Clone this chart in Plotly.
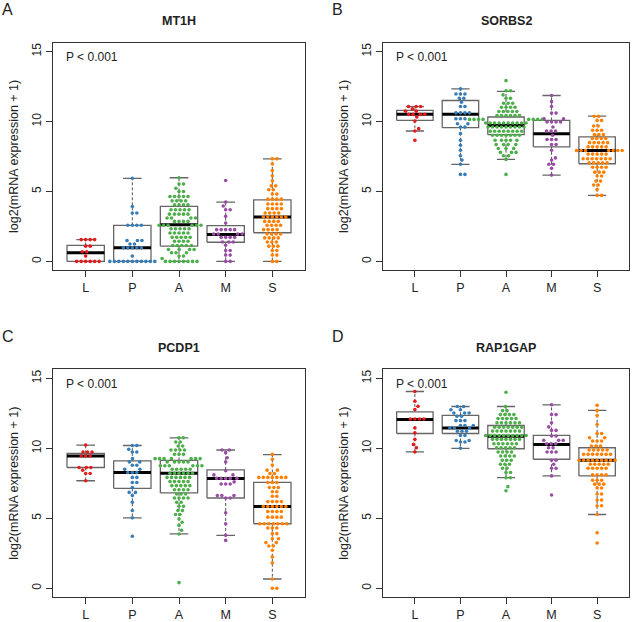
import math
import plotly.graph_objects as go

W, H = 635, 622
CATS = ["L", "P", "A", "M", "S"]
COLORS = ["#E41A1C", "#377EB8", "#4DAF4A", "#984EA3", "#FF7F00"]
Y_TICKS = [0, 5, 10, 15]
P_TEXT = "P < 0.001"
Y_TITLE = "log2(mRNA expression + 1)"

# ---------------- MT1H ----------------
MT1H_L = [0, 0, 0, 0, 0, 0, 0.38, 0.69, 0.69, 1.09, 1.09, 1.56, 1.56, 1.56, 1.56]
MT1H_P = [0, 0, 0, 0, 0, 0, 0, 0, 0, 0, 0, 0.38, 0.97, 0.97, 0.97, 0.97, 0.97, 1.25, 1.25,
          1.49, 1.49, 1.49, 2.58, 2.58, 2.58, 2.58, 3.46, 3.46, 3.93, 5.94]
MT1H_A = [0, 0, 0, 0, 0, 0, 0, 0, 0.21, 0.38, 0.38, 0.62, 0.62, 0.62, 0.85, 0.85, 0.85, 0.85,
          1.14, 1.14, 1.14, 1.14, 1.14, 1.44, 1.44, 1.44, 1.44, 1.72, 1.72, 1.72, 1.72, 1.72,
          2.03, 2.03, 2.03, 2.03, 2.03, 2.34, 2.34, 2.34, 2.34, 2.34, 2.58, 2.58, 2.58, 2.58,
          2.58, 2.58, 2.86, 2.86, 2.86, 2.86, 3.1, 3.1, 3.1, 3.1, 3.38, 3.38, 3.38, 3.38, 3.38,
          3.69, 3.69, 3.69, 3.69, 3.69, 4.05, 4.05, 4.05, 4.05, 4.33, 4.33, 4.33, 4.33,
          4.64, 4.64, 4.64, 4.64, 4.64, 5.0, 5.0, 5.23, 5.53, 5.53, 5.98]
MT1H_M = [0, 0, 0.45, 0.45, 0.78, 0.78, 1.16, 1.39, 1.39, 1.39, 1.72, 1.72, 1.72, 1.72,
          1.96, 1.96, 1.96, 1.96, 2.27, 2.27, 2.27, 2.27, 2.27, 2.75, 3.22, 3.69, 3.69, 3.96,
          4.24, 5.78]
MT1H_S = [0, 0, 0.45, 0.45, 0.78, 0.78, 1.09, 1.09, 1.09, 1.39, 1.39, 1.39, 1.68, 1.68, 1.68,
          1.68, 1.96, 1.96, 1.96, 1.96, 2.27, 2.27, 2.27, 2.27, 2.58, 2.58, 2.58, 2.58,
          2.86, 2.86, 2.86, 2.86, 3.17, 3.17, 3.17, 3.17, 3.17, 3.17, 3.46, 3.46, 3.46, 3.46,
          3.77, 3.77, 3.77, 3.77, 4.1, 4.1, 4.1, 4.1, 4.45, 4.45, 4.45, 4.45, 4.81, 4.81,
          5.12, 5.12, 5.4, 5.4, 5.76, 6.12, 6.5, 6.97, 7.33, 7.33]
MT1H_Q1 = [0, 0, 1.09, 1.37, 2.05]
MT1H_MED = [0.62, 0.97, 2.62, 1.92, 3.17]
MT1H_Q3 = [1.14, 2.58, 3.93, 2.56, 4.4]
MT1H_LO = [0, 0, 0, 0, 0]
MT1H_HI = [1.56, 5.94, 5.98, 4.24, 7.33]

# ---------------- SORBS2 ----------------
SORBS2_L = [8.66, 9.32, 9.49, 10.03, 10.32, 10.51, 10.51, 10.51, 10.51, 10.74, 10.74, 10.9,
            11.07, 11.07, 11.07]
SORBS2_P = [6.22, 6.22, 6.94, 7.24, 7.55, 7.95, 8.3, 8.66, 9.13, 9.6, 9.6, 9.84, 9.84, 10.2,
            10.2, 10.2, 10.62, 10.62, 10.62, 10.62, 11.07, 11.07, 11.38, 11.66, 11.66,
            11.97, 11.97, 11.97, 12.33]
SORBS2_A = [6.22, 7.29, 7.55, 7.55, 7.79, 7.79, 7.79, 8.07, 8.07, 8.07, 8.35, 8.35, 8.35, 8.35,
            8.66, 8.66, 8.66, 8.66, 8.66, 9.02, 9.02, 9.02, 9.02, 9.02, 9.02, 9.02,
            9.3, 9.3, 9.3, 9.3, 9.3, 9.3, 9.3, 9.3, 9.61, 9.61, 9.61, 9.61, 9.61, 9.61, 9.61,
            9.61, 9.61, 9.89, 9.89, 9.89, 9.89, 9.89, 9.89, 9.89, 9.89, 9.89, 9.89,
            10.15, 10.15, 10.15, 10.15, 10.15, 10.15, 10.15, 10.15, 10.43, 10.43, 10.43,
            10.43, 10.43, 10.43, 10.72, 10.72, 10.72, 10.72, 10.72, 11.02, 11.02, 11.02,
            11.02, 11.3, 11.3, 11.3, 11.66, 11.66, 11.9, 12.2, 12.2, 12.92]
SORBS2_M = [6.17, 6.65, 6.94, 6.94, 7.24, 7.4, 7.95, 8.35, 8.35, 8.71, 8.71, 8.71, 9.02,
            9.32, 9.32, 9.32, 9.61, 9.96, 9.96, 9.96, 9.96, 10.2, 10.2, 10.6, 10.6, 11.07,
            11.42, 11.86]
SORBS2_S = [4.72, 4.72, 5.15, 5.46, 5.46, 5.74, 5.74, 6.1, 6.1, 6.38, 6.38, 6.38, 6.73, 6.73,
            6.73, 6.73, 7.04, 7.04, 7.04, 7.04, 7.04, 7.34, 7.34, 7.34, 7.34, 7.34, 7.34, 7.34,
            7.67, 7.67, 7.67, 7.67, 7.67, 7.93, 7.93, 7.93, 7.93, 7.93, 7.93, 7.93,
            8.19, 8.19, 8.19, 8.19, 8.19, 8.49, 8.49, 8.49, 8.49, 8.49, 8.78, 8.78, 8.78, 8.78,
            9.06, 9.06, 9.06, 9.37, 9.37, 9.37, 9.68, 9.68, 10.08, 10.08, 10.38, 10.38]
SORBS2_Q1 = [10.08, 9.56, 9.06, 8.19, 6.98]
SORBS2_MED = [10.51, 10.51, 9.72, 9.13, 7.93]
SORBS2_Q3 = [10.79, 11.5, 10.32, 10.08, 8.9]
SORBS2_LO = [9.32, 6.94, 7.29, 6.17, 4.72]
SORBS2_HI = [11.07, 12.33, 12.16, 11.86, 10.38]

# ---------------- PCDP1 ----------------
PCDP1_L = [7.68, 8.2, 8.2, 8.44, 8.63, 8.63, 8.63, 9.45, 9.45, 9.45, 9.74, 9.74, 9.74, 10.23]
PCDP1_P = [3.71, 5.03, 5.55, 6.14, 6.62, 6.85, 6.85, 7.2, 7.56, 7.56, 7.92, 7.92, 8.27, 8.27,
           8.27, 8.5, 8.5, 8.79, 8.79, 9.03, 9.03, 9.26, 9.74, 9.74, 9.93, 10.2, 10.2]
PCDP1_A = [0.4, 3.88, 4.14, 4.49, 4.72, 4.96, 5.27, 5.27, 5.55, 5.55, 5.86, 5.86, 6.14, 6.14,
           6.45, 6.45, 6.45, 6.45, 6.73, 6.73, 6.73, 7.04, 7.04, 7.04, 7.04, 7.33, 7.33, 7.33,
           7.33, 7.33, 7.62, 7.62, 7.62, 7.62, 7.62, 7.92, 7.92, 7.92, 7.92, 7.92, 7.92,
           8.22, 8.22, 8.22, 8.22, 8.22, 8.22, 8.5, 8.5, 8.5, 8.5, 8.5, 8.75, 8.75, 8.75, 8.75,
           8.75, 8.75, 9.03, 9.03, 9.03, 9.03, 9.03, 9.26, 9.26, 9.26, 9.26, 9.26, 9.26, 9.26,
           9.57, 9.57, 9.57, 9.88, 9.88, 9.88, 9.88, 10.17, 10.17, 10.45, 10.45, 10.75, 10.75]
PCDP1_M = [3.42, 3.78, 4.61, 5.39, 6.45, 6.45, 6.62, 6.62, 6.62, 7.45, 7.45, 7.45, 7.6, 7.85,
           7.85, 7.85, 7.85, 7.85, 8.1, 8.1, 8.4, 9.03, 9.33, 9.69, 9.88, 9.88]
PCDP1_S = [0, 0, 0.66, 1.81, 2.24, 2.71, 3.02, 3.02, 3.26, 3.26, 3.54, 3.54, 3.9, 3.9, 4.3, 4.3,
           4.3, 4.61, 4.61, 4.61, 4.61, 4.61, 4.61, 4.61, 5.08, 5.08, 5.08, 5.08, 5.48, 5.48,
           5.48, 5.48, 5.84, 5.84, 5.84, 5.84, 5.84, 5.84, 6.19, 6.19, 6.19, 6.19, 6.57, 6.57,
           6.9, 6.9, 7.2, 7.2, 7.2, 7.56, 7.56, 7.56, 7.92, 7.92, 7.92, 7.92, 7.92, 7.92, 7.92,
           8.2, 8.2, 8.44, 8.44, 8.8, 9.22, 9.57]
PCDP1_Q1 = [8.63, 7.14, 6.81, 6.45, 4.61]
PCDP1_MED = [9.45, 8.27, 8.22, 7.85, 5.84]
PCDP1_Q3 = [9.64, 9.1, 9.14, 8.46, 7.56]
PCDP1_LO = [7.68, 5.03, 3.88, 3.78, 0.66]
PCDP1_HI = [10.23, 10.2, 10.75, 9.88, 9.55]

# ---------------- RAP1GAP ----------------
RAP1GAP_L = [9.74, 10.04, 10.28, 10.64, 11.1, 11.46, 12.1, 12.1, 12.1, 12.1, 12.77, 13.0,
             13.36, 14.06]
RAP1GAP_P = [10.0, 10.45, 10.45, 10.56, 10.56, 10.92, 10.92, 11.22, 11.22, 11.22, 11.45, 11.45,
             11.45, 11.63, 11.63, 11.63, 11.98, 11.98, 11.98, 12.29, 12.29, 12.52, 12.52,
             12.52, 12.76, 12.76, 12.99, 12.99]
RAP1GAP_A = [6.97, 7.26, 7.9, 7.9, 8.27, 8.27, 8.58, 8.58, 8.86, 8.86, 8.86, 9.15, 9.15, 9.15,
             9.45, 9.45, 9.45, 9.45, 9.74, 9.74, 9.74, 9.74, 10.04, 10.04, 10.04, 10.04, 10.04,
             10.33, 10.33, 10.33, 10.33, 10.33, 10.33, 10.64, 10.64, 10.64, 10.64, 10.64,
             10.64, 10.64, 10.92, 10.92, 10.92, 10.92, 10.92, 10.92, 10.92, 10.92, 10.92,
             10.92, 11.23, 11.23, 11.23, 11.23, 11.23, 11.23, 11.23, 11.51, 11.51, 11.51,
             11.51, 11.51, 11.51, 11.51, 11.82, 11.82, 11.82, 11.82, 11.82, 11.82, 12.13,
             12.13, 12.13, 12.13, 12.13, 12.41, 12.41, 12.41, 12.41, 12.69, 12.69, 12.99, 14.01]
RAP1GAP_M = [6.66, 8.03, 8.58, 8.58, 8.86, 9.15, 9.15, 9.74, 9.74, 9.74, 10.04, 10.04, 10.33,
             10.33, 10.33, 10.57, 10.57, 10.57, 10.88, 10.88, 11.28, 11.28, 11.53, 11.82,
             12.41, 12.41, 13.11]
RAP1GAP_S = [3.23, 3.97, 5.27, 5.9, 5.9, 6.3, 6.3, 6.73, 6.73, 7.16, 7.16, 7.44, 7.44, 7.44,
             7.72, 7.72, 7.72, 8.1, 8.1, 8.1, 8.1, 8.58, 8.58, 8.58, 8.58, 8.58, 8.86, 8.86,
             8.86, 8.86, 8.86, 9.15, 9.15, 9.15, 9.15, 9.15, 9.15, 9.15, 9.15, 9.15, 9.57, 9.57,
             9.57, 9.57, 9.57, 9.57, 9.57, 9.88, 9.88, 9.88, 9.88, 9.88, 10.16, 10.16, 10.16,
             10.52, 10.52, 10.52, 10.75, 10.75, 11.06, 11.06, 11.7, 12.34, 12.71, 13.07]
RAP1GAP_Q1 = [11.06, 11.06, 9.97, 9.22, 8.03]
RAP1GAP_MED = [12.06, 11.46, 10.87, 10.28, 9.15]
RAP1GAP_Q3 = [12.6, 12.36, 11.63, 10.92, 10.04]
RAP1GAP_LO = [9.74, 10.0, 7.9, 8.03, 5.27]
RAP1GAP_HI = [14.06, 12.99, 12.99, 13.11, 12.71]

PANELS = [
    ("A", "MT1H", [MT1H_L, MT1H_P, MT1H_A, MT1H_M, MT1H_S],
     (MT1H_Q1, MT1H_MED, MT1H_Q3, MT1H_LO, MT1H_HI), (53, 305, 43, 273)),
    ("B", "SORBS2", [SORBS2_L, SORBS2_P, SORBS2_A, SORBS2_M, SORBS2_S],
     (SORBS2_Q1, SORBS2_MED, SORBS2_Q3, SORBS2_LO, SORBS2_HI), (383, 629, 43, 273)),
    ("C", "PCDP1", [PCDP1_L, PCDP1_P, PCDP1_A, PCDP1_M, PCDP1_S],
     (PCDP1_Q1, PCDP1_MED, PCDP1_Q3, PCDP1_LO, PCDP1_HI), (53, 305, 373, 603)),
    ("D", "RAP1GAP", [RAP1GAP_L, RAP1GAP_P, RAP1GAP_A, RAP1GAP_M, RAP1GAP_S],
     (RAP1GAP_Q1, RAP1GAP_MED, RAP1GAP_Q3, RAP1GAP_LO, RAP1GAP_HI), (383, 629, 373, 603)),
]

X_RANGE = [0.3, 5.7]
Y_RANGE = [-0.64, 15.64]
BOX_HALF = 0.4
CAP_HALF = 0.2
DOT = 3.6      # marker diameter, px
GAP = 4.5      # minimum centre distance between points in the swarm, px
FONT = "Liberation Sans, Arial, sans-serif"


def swarm(vals, xppu, yppu, d):
    """beeswarm 'swarm' layout (ascending priority); returns x offsets in data units"""
    order = sorted(range(len(vals)), key=lambda i: vals[i])
    placed = []
    xs = [0.0] * len(vals)
    for i in order:
        y = vals[i] * yppu
        cands = [0.0]
        for px, py in placed:
            dy = y - py
            if abs(dy) < d:
                dx = math.sqrt(d * d - dy * dy)
                cands += [px + dx, px - dx]
        cands.sort(key=abs)
        chosen = 0.0
        for c in cands:
            if all((c - px) ** 2 + (y - py) ** 2 >= d * d - 1e-6 for px, py in placed):
                chosen = c
                break
        placed.append((chosen, y))
        xs[i] = chosen / xppu
    return xs


fig = go.Figure()
layout = dict(
    width=W, height=H, margin=dict(l=0, r=0, t=0, b=0),
    paper_bgcolor="white", plot_bgcolor="white", showlegend=False,
    font=dict(family=FONT, color="#222222", size=12),
)
annotations = []

for k, (letter, gene, groups, stats, (x0, x1, y0, y1)) in enumerate(PANELS):
    sfx = "" if k == 0 else str(k + 1)
    xa, ya = "x" + sfx, "y" + sfx
    xppu = (x1 - x0) / (X_RANGE[1] - X_RANGE[0])
    yppu = (y1 - y0) / (Y_RANGE[1] - Y_RANGE[0])
    q1, med, q3, lo, hi = stats

    bx, by, mx, my, wx, wy, cx, cy = [], [], [], [], [], [], [], []
    for g in range(5):
        c = g + 1
        bx += [c - BOX_HALF, c + BOX_HALF, c + BOX_HALF, c - BOX_HALF, c - BOX_HALF, None]
        by += [q1[g], q1[g], q3[g], q3[g], q1[g], None]
        mx += [c - BOX_HALF, c + BOX_HALF, None]
        my += [med[g], med[g], None]
        wx += [c, c, None, c, c, None]
        wy += [q3[g], hi[g], None, q1[g], lo[g], None]
        cx += [c - CAP_HALF, c + CAP_HALF, None, c - CAP_HALF, c + CAP_HALF, None]
        cy += [hi[g], hi[g], None, lo[g], lo[g], None]

    fig.add_trace(go.Scatter(x=wx, y=wy, mode="lines", xaxis=xa, yaxis=ya, hoverinfo="skip",
                             line=dict(color="#555555", width=1, dash="3px,2px")))
    fig.add_trace(go.Scatter(x=cx, y=cy, mode="lines", xaxis=xa, yaxis=ya, hoverinfo="skip",
                             line=dict(color="#666666", width=1.3)))
    fig.add_trace(go.Scatter(x=bx, y=by, mode="lines", xaxis=xa, yaxis=ya, hoverinfo="skip",
                             line=dict(color="#666666", width=1.3)))
    fig.add_trace(go.Scatter(x=mx, y=my, mode="lines", xaxis=xa, yaxis=ya, hoverinfo="skip",
                             line=dict(color="#000000", width=3)))

    for g, vals in enumerate(groups):
        offs = swarm(vals, xppu, yppu, GAP)
        fig.add_trace(go.Scatter(
            x=[g + 1 + o for o in offs], y=vals, mode="markers", xaxis=xa, yaxis=ya,
            marker=dict(color=COLORS[g], size=DOT, line=dict(width=0)), name=CATS[g]))

    layout["xaxis" + sfx] = dict(
        domain=[x0 / W, x1 / W], range=X_RANGE, anchor=ya, showline=True, mirror=True,
        linecolor="#333333", linewidth=1, ticks="outside", ticklen=6, tickcolor="#333333",
        tickvals=[1, 2, 3, 4, 5], ticktext=CATS, showgrid=False, zeroline=False,
        tickfont=dict(size=12.5, color="#222222", family=FONT), fixedrange=True)
    layout["yaxis" + sfx] = dict(
        domain=[1 - y1 / H, 1 - y0 / H], range=Y_RANGE, anchor=xa, showline=True, mirror=True,
        linecolor="#333333", linewidth=1, ticks="outside", ticklen=6, tickcolor="#333333",
        tickvals=Y_TICKS, tickangle=-90, showgrid=False, zeroline=False,
        tickfont=dict(size=12, color="#222222", family=FONT), fixedrange=True)

    # p-value text
    annotations.append(dict(x=0.535, y=14.6, xref=xa, yref=ya, text=P_TEXT, showarrow=False,
                            xanchor="left", yanchor="middle",
                            font=dict(size=12, color="#222222", family=FONT)))
    # gene title
    annotations.append(dict(x=(x0 + x1) / 2 / W, y=1 - (y0 - 21.5) / H, xref="paper",
                            yref="paper", text="<b>" + gene + "</b>", showarrow=False,
                            xanchor="center", yanchor="middle",
                            font=dict(size=12.5, color="#222222", family=FONT)))
    # panel letter
    annotations.append(dict(x=(x0 - 53 + 1) / W, y=1 - (y0 - 43) / H, xref="paper",
                            yref="paper", text=letter, showarrow=False, xanchor="left",
                            yanchor="top", borderpad=0,
                            font=dict(size=16, color="#222222", family=FONT)))
    # y title
    annotations.append(dict(x=(x0 - 38.5) / W, y=1 - (y0 + y1) / 2 / H, xref="paper",
                            yref="paper", text=Y_TITLE, showarrow=False, textangle=-90,
                            xanchor="center", yanchor="middle",
                            font=dict(size=12.5, color="#222222", family=FONT)))

layout["annotations"] = annotations
fig.update_layout(**layout)
fig.write_html("out.html", config={"displayModeBar": False},
               post_script="document.body.style.margin='0px';")
